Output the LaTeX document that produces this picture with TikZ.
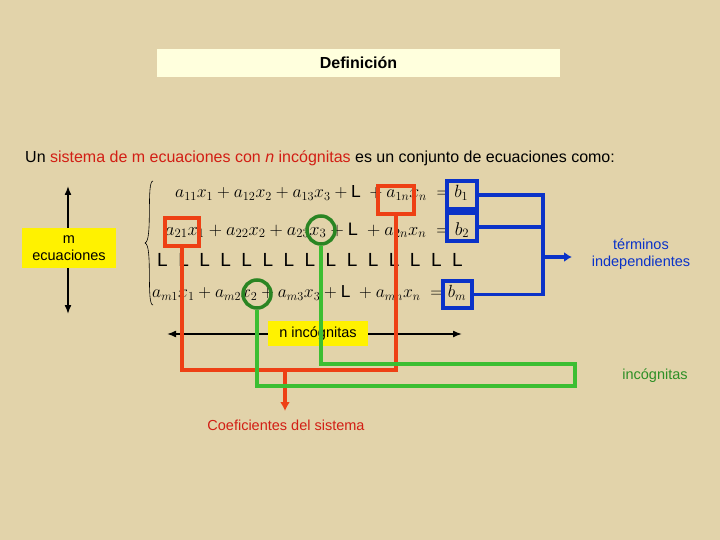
\documentclass[tikz,border=0pt]{standalone}
\usepackage{fontspec}
\setsansfont{Liberation Sans}
\usetikzlibrary{arrows.meta}
\definecolor{parch}{RGB}{226,211,170}
\definecolor{titlebg}{RGB}{255,255,221}
\definecolor{redline}{RGB}{238,64,20}
\definecolor{greenline}{RGB}{60,190,50}
\definecolor{blueline}{RGB}{10,50,200}
\definecolor{labelred}{RGB}{210,30,20}
\tikzset{
  lbl/.style={font=\sffamily\fontsize{14.5}{17}\selectfont, align=center},
  ylbox/.style={fill=yellow, inner sep=2pt, lbl},
  eq/.style={anchor=west, inner sep=0pt, font=\fontsize{17}{20}\selectfont},
  redbox/.style={draw=redline, line width=3.5pt},
  greenring/.style={draw=greenline!70!black, line width=3.5pt},
  bluebox/.style={draw=blueline, line width=3.5pt},
}
\begin{document}
\begin{tikzpicture}[x=1pt,y=-1pt]
\fill[parch] (0,0) rectangle (720,540);
\useasboundingbox (0,0) rectangle (720,540);
% title
\node[fill=titlebg, minimum width=403pt, minimum height=28pt, font=\sffamily\bfseries\fontsize{16}{18}\selectfont] (title) at (358.5,63) {Definici\'on};
\node[anchor=west, inner sep=0pt, font=\sffamily\fontsize{16}{18}\selectfont] (intro) at (25,158) {Un \textcolor{labelred}{sistema de m ecuaciones con \textit{n} inc\'ognitas} es un conjunto de ecuaciones como:};
% equations
\node[eq] (row1) at (175,193) {\resizebox{293pt}{!}{$a_{11}x_1+a_{12}x_2+a_{13}x_3+\textsf{L}\;+a_{1n}x_n\;=b_1$}};
\node[eq] (row2) at (165,230) {\resizebox{304pt}{!}{$a_{21}x_1+a_{22}x_2+a_{23}x_3+\textsf{L}\;+a_{2n}x_n\;=b_2$}};
\node[eq, font=\sffamily\fontsize{19}{20}\selectfont] (row3) at (157,260) {L\hspace{10.5pt}L\hspace{10.5pt}L\hspace{10.5pt}L\hspace{10.5pt}L\hspace{10.5pt}L\hspace{10.5pt}L\hspace{10.5pt}L\hspace{10.5pt}L\hspace{10.5pt}L\hspace{10.5pt}L\hspace{10.5pt}L\hspace{10.5pt}L\hspace{10.5pt}L\hspace{10.5pt}L};
\node[eq] (row4) at (152,293) {\resizebox{314pt}{!}{$a_{m1}x_1+a_{m2}x_2+a_{m3}x_3+\textsf{L}\;+a_{mn}x_n\;=b_m$}};
\draw[line width=0.6pt] (153,181) .. controls (146,181) and (153,241) .. (145,243) .. controls (153,245) and (146,305) .. (153,305);
% m ecuaciones
\draw[{Latex[length=9pt,width=7pt]}-{Latex[length=9pt,width=7pt]}, line width=1.5pt] (68,186) -- (68,314);
\node[ylbox, minimum width=94pt, minimum height=40pt] (mecu) at (69,248) {m\\ecuaciones};
% n incognitas
\coordinate (nl) at (167,334);
\coordinate (nr) at (462,334);
\draw[{Latex[length=9pt,width=7pt]}-{Latex[length=9pt,width=7pt]}, line width=1.5pt] (nl) -- (nr);
\node[ylbox, minimum width=100pt, minimum height=25pt] (ninc) at (318,333.5) {n inc\'ognitas};
% coeficientes
\node[redbox, minimum width=36pt, minimum height=28pt] (a1n) at (396,200) {};
\node[redbox, minimum width=34pt, minimum height=28pt] (a21) at (182,232) {};
\node[lbl, text=labelred] (coef) at (286,425) {Coeficientes del sistema};
\draw[redline, line width=3.5pt] (a21.south) -- (182,370) -| (a1n.south);
\draw[redline, line width=3.5pt, -{Latex[length=9pt,width=10pt]}] (285,370) -- (285,411);
% incognitas
\node[greenring, circle, minimum size=28pt] (x3) at (321,230) {};
\node[greenring, circle, minimum size=28pt] (x2) at (257,294) {};
\node[lbl, text=greenline!75!black] (inc) at (655,376) {inc\'ognitas};
\draw[greenline, line width=3.5pt] (x3.south) -- (321,364) -- (575,364) -- (575,386) -- (257,386) -- (x2.south);
% terminos independientes
\node[bluebox, minimum width=30pt, minimum height=28pt] (b1) at (462,195) {};
\node[bluebox, minimum width=30pt, minimum height=28pt] (b2) at (462,227) {};
\node[bluebox, minimum width=29pt, minimum height=27pt] (bm) at (457.5,294.5) {};
\node[lbl, text=blueline] (term) at (641,254) {t\'erminos\\independientes};
\draw[blueline, line width=3.5pt] (b1.east) -- (543,195) -- (543,294.5) -- (bm.east);
\draw[blueline, line width=3.5pt] (b2.east) -- (543,227);
\draw[blueline, line width=3.5pt, -{Latex[length=8pt,width=10pt]}] (543,257) -- (572,257);
\end{tikzpicture}
\end{document}
